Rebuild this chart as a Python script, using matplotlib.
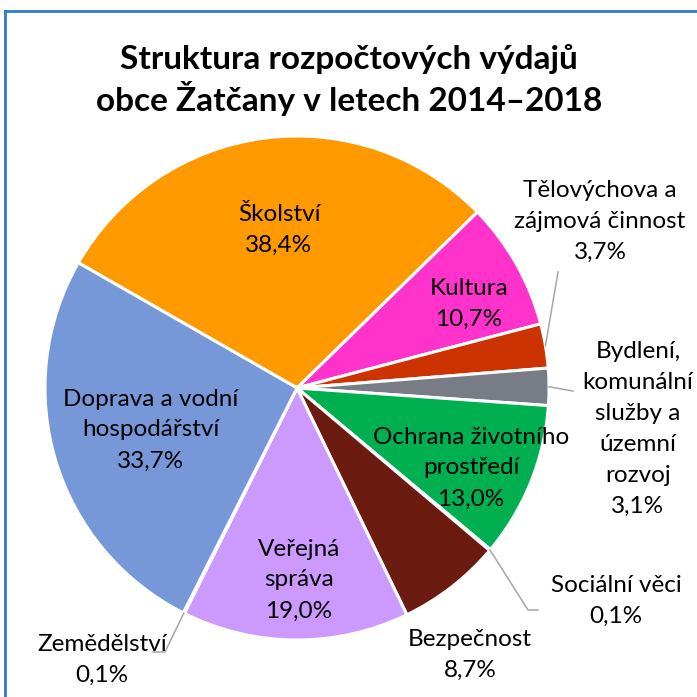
import matplotlib
matplotlib.use('Agg')
import matplotlib.pyplot as plt
from matplotlib.lines import Line2D
import numpy as np

# ---------------- data ----------------
categories = ['Školství', 'Kultura', 'Tělovýchova a\nzájmová činnost',
              'Bydlení,\nkomunální\nslužby a\núzemní\nrozvoj',
              'Ochrana životního\nprostředí', 'Sociální věci', 'Bezpečnost',
              'Veřejná\nspráva', 'Zemědělství', 'Doprava a vodní\nhospodářství']
values = [38.4, 10.7, 3.7, 3.1, 13.0, 0.1, 8.7, 19.0, 0.1, 33.7]
colors = ['#FF9900', '#FF33CC', '#CC3300', '#787C84', '#00B050',
          '#FFC000', '#6B1B10', '#CC99FF', '#70AD47', '#7698D8']
title = 'Struktura rozpočtových výdajů\nobce Žatčany v letech 2014–2018'

# label centres (pixels, from top-left) and optional leader elbow points
label_pos = [(279, 230), (469, 304), (600, 221), (638, 429), (471, 468),
             (616, 601), (470, 655), (299, 580), (102, 660), (151, 430)]
leaders = {2: [(558, 272)], 3: [(573, 391)], 5: [(528, 610), (538, 610)],
           8: [(165, 652), (153, 652)]}

W = H = 697
fig = plt.figure(figsize=(W / 100, H / 100), dpi=100)
ax = fig.add_axes([0, 0, 1, 1])

CX, CY, R = 297, H - 388, 252
wedges, _ = ax.pie(values, colors=colors, startangle=150.2, counterclock=False,
                   center=(CX, CY), radius=R,
                   wedgeprops=dict(edgecolor='white', linewidth=2.2))
ax.set_xlim(0, W)
ax.set_ylim(0, H)
ax.set_aspect('equal')
ax.axis('off')

FONT = 'Lato'
fs = 17.5
for i, (cat, v) in enumerate(zip(categories, values)):
    txt = cat + '\n' + f'{v:.1f}%'.replace('.', ',')
    x, y = label_pos[i]
    ax.text(x, H - y, txt, ha='center', va='center', fontsize=fs,
            family=FONT, color='black', linespacing=1.58)
    if i in leaders:
        w = wedges[i]
        mid = np.deg2rad((w.theta1 + w.theta2) / 2)
        pts = [(CX + R * np.cos(mid), CY + R * np.sin(mid))]
        pts += [(px, H - py) for px, py in leaders[i]]
        xs, ys = zip(*pts)
        ax.add_line(Line2D(xs, ys, color='#A6A6A6', lw=1.1))

fig.text(349 / W, 1 - 80 / H, title, ha='center', va='center',
         fontsize=24, fontweight='bold', family=FONT, linespacing=1.2)

# frame of the chart area
ax.add_line(Line2D([5, W], [H - 11, H - 11], color='#2A7BD1', lw=2))
ax.add_line(Line2D([5, 5], [H - 11, 0], color='#2A7BD1', lw=2))

fig.savefig('out.png', dpi=100)
